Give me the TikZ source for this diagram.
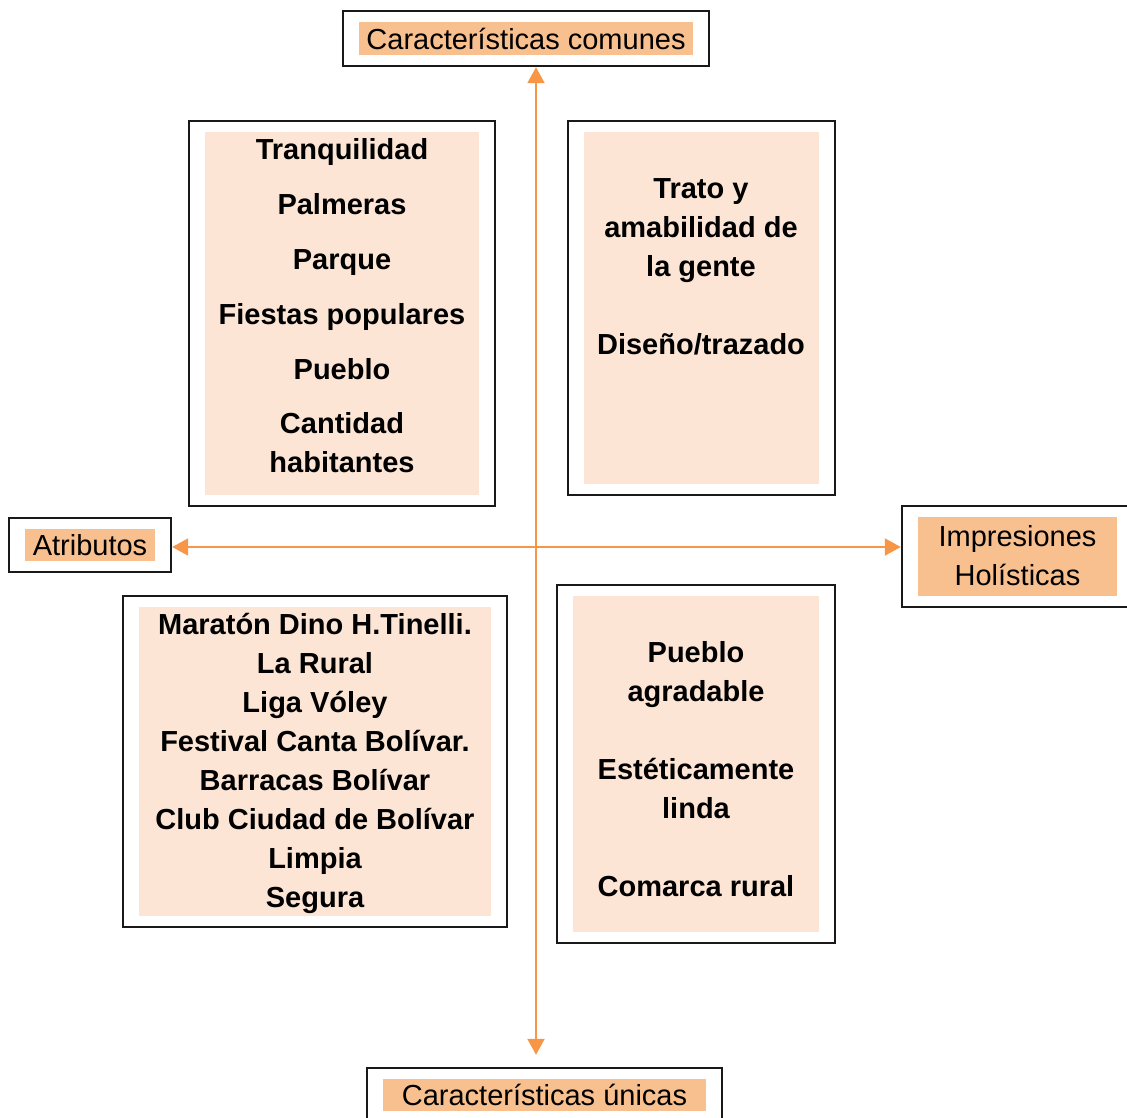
\documentclass[tikz,border=0pt]{standalone}
\usepackage{fontspec}
\setmainfont{Liberation Sans}
\usetikzlibrary{arrows.meta,fit,positioning}
\definecolor{tagorange}{HTML}{F9C08F}
\definecolor{paleorange}{HTML}{FCE5D5}
\definecolor{axisorange}{HTML}{F79646}
\tikzset{
  tag/.style={fill=tagorange, inner sep=0pt, align=center,
    font=\fontsize{29}{39}\selectfont},
  pale/.style={fill=paleorange, inner sep=0pt},
  items/.style={inner sep=0pt, align=center, anchor=north,
    font=\fontsize{29}{39}\selectfont\bfseries},
  frame/.style={draw=black!90, line width=2pt, inner xsep=16pt, inner ysep=11pt},
  axis/.style={axisorange, line width=2pt,
    {Triangle[width=17pt,length=16pt]}-{Triangle[width=17pt,length=16pt]}}
}
\begin{document}
\begin{tikzpicture}[x=1pt,y=-1pt]
  \useasboundingbox (0,0) rectangle (1127,1118);

  % axis labels
  \node[tag, minimum width=334pt, minimum height=33pt] (comunes) at (526,38.5) {Características comunes};
  \node[tag, minimum width=323pt, minimum height=32pt] (unicas) at (544.5,1095) {Características únicas};
  \node[tag, minimum width=130pt, minimum height=32pt] (atributos) at (90,545) {Atributos};
  \node[tag, minimum width=199pt, minimum height=79pt] (impresiones) at (1017.5,556.5) {\raisebox{3pt}{Impresiones}\\\raisebox{3pt}{Holísticas}};

  % quadrant boxes
  \node[pale, minimum width=274pt, minimum height=363pt] (tl) at (342,313.5) {};
  \node[pale, minimum width=235pt, minimum height=352pt] (tr) at (701.5,308) {};
  \node[pale, minimum width=352pt, minimum height=309pt] (bl) at (315,761.5) {};
  \node[pale, minimum width=246pt, minimum height=336pt] (br) at (696,764) {};

  % frames
  \foreach \n in {comunes,unicas,atributos,impresiones,tl,tr,bl,br}
    \node[frame, fit=(\n)] (\n frame) {};

  % quadrant texts
  \node[items] (tltext) at (342,138) {Tranquilidad\\[16pt]Palmeras\\[16pt]Parque\\[16pt]Fiestas populares\\[16pt]Pueblo\\[15pt]Cantidad\\habitantes};
  \node[items] (trtext) at (701,178.5) {Trato y\\amabilidad de\\la gente\\[39pt]Diseño/trazado};
  \node[items] (bltext) at (315,613) {Maratón Dino H.Tinelli.\\La Rural\\Liga Vóley\\Festival Canta Bolívar.\\Barracas Bolívar\\Club Ciudad de Bolívar\\Limpia\\Segura};
  \node[items] (brtext) at (696,641) {Pueblo\\agradable\\[39pt]Estéticamente\\linda\\[39pt]Comarca rural};

  % axes
  \coordinate (origin) at (536,547);
  \draw[axis, shorten >=12pt] (origin |- comunesframe.south) -- (origin |- unicasframe.north);
  \draw[axis] (atributosframe.east |- origin) -- (impresionesframe.west |- origin);
\end{tikzpicture}
\end{document}
